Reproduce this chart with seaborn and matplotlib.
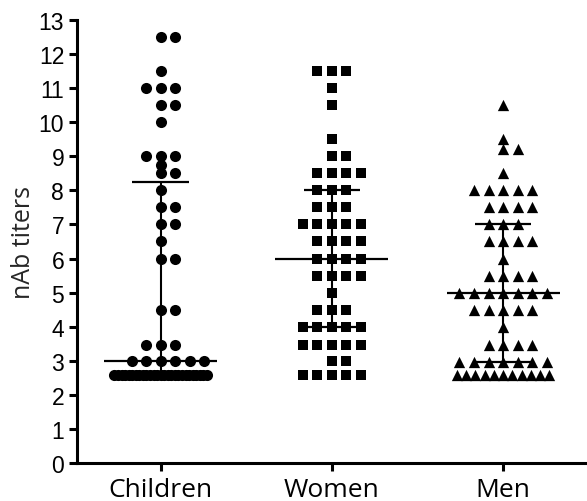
"""
plot.py - nAb titers by group, scatter dot plot with median and IQR
"""
import numpy as np
import pandas as pd
import matplotlib
matplotlib.use('Agg')
import matplotlib.pyplot as plt
import seaborn as sns

GROUPS = ['Children', 'Women', 'Men']

# titer levels (rows of dots) and how many subjects sit on each level
children_levels = [12.5, 11.5, 11, 10.5, 10, 9, 8.75, 8.5, 8, 7.5, 7, 6.5, 6, 4.5, 3.45, 3, 2.58]
children_counts = [2, 1, 3, 2, 1, 3, 1, 2, 1, 2, 2, 1, 2, 2, 3, 6, 27]
women_levels = [11.5, 11, 10.5, 9.5, 9, 8.5, 8, 7.5, 7, 6.5, 6, 5.5, 5, 4.5, 4, 3.45, 3, 2.58]
women_counts = [3, 1, 1, 1, 2, 4, 3, 3, 5, 4, 4, 4, 1, 3, 5, 5, 2, 5]
men_levels = [10.5, 9.5, 9.2, 8.5, 8, 7.5, 7, 6.5, 6, 5.5, 5, 4.5, 4, 3.45, 2.95, 2.58]
men_counts = [1, 1, 2, 1, 5, 4, 3, 4, 1, 4, 7, 5, 1, 4, 7, 11]

LEVELS = [children_levels, women_levels, men_levels]
COUNTS = [children_counts, women_counts, men_counts]
MARKERS = {'Children': 'o', 'Women': 's', 'Men': '^'}
SIZES = {'Children': 64, 'Women': 52, 'Men': 66}

STEP = 0.085      # column spacing inside a row (data units)
MAX_HALF = 0.27   # crowded rows get squeezed into this half-width
ORDER = [0, 1, -1, 2, -2, 3, -3]


def row_offsets(n):
    if n <= len(ORDER):
        return np.array(ORDER[:n]) * STEP
    return np.linspace(-MAX_HALF, MAX_HALF, n)


rows = []
for gi, (g, lv, ct) in enumerate(zip(GROUPS, LEVELS, COUNTS)):
    for v, n in zip(lv, ct):
        for off in row_offsets(n):
            rows.append((g, v, gi + off))
df = pd.DataFrame(rows, columns=['group', 'titer', 'x'])

sns.set_style('ticks')
plt.rcParams['font.family'] = ['Liberation Sans', 'DejaVu Sans']

fig = plt.figure(figsize=(5.87, 5.02), dpi=100)
ax = fig.add_axes([0.1307, 0.0757, 0.8693, 0.8825])

for g in GROUPS:
    sub = df[df['group'] == g]
    sns.scatterplot(data=sub, x='x', y='titer', marker=MARKERS[g], s=SIZES[g],
                    color='black', linewidth=0, ax=ax, legend=False, zorder=3)

# median + interquartile range (Prism style)
for gi, g in enumerate(GROUPS):
    vals = df.loc[df['group'] == g, 'titer'].values
    q1, med, q3 = np.percentile(vals, [25, 50, 75], method='weibull')
    ax.vlines(gi, q1, q3, color='black', lw=1.5, zorder=4)
    ax.hlines(med, gi - 0.33, gi + 0.33, color='black', lw=1.6, zorder=4)
    ax.hlines([q1, q3], gi - 0.165, gi + 0.165, color='black', lw=1.6, zorder=4)

ax.set_xlim(-0.49, 2.49)
ax.set_ylim(0, 13)
ax.set_yticks(range(0, 14))
ax.set_xticks(range(len(GROUPS)))
ax.set_xticklabels(GROUPS, family='Open Sans', fontsize=19)
ax.set_xlabel('')
ax.set_ylabel('nAb titers', family='Open Sans', fontsize=18, labelpad=2)
ax.tick_params(axis='y', labelsize=16.5, length=6, width=2.2, pad=3, colors='black')
ax.tick_params(axis='x', length=6, width=2.2, pad=4, colors='black')
for s in ['top', 'right']:
    ax.spines[s].set_visible(False)
for s in ['left', 'bottom']:
    ax.spines[s].set_linewidth(2.2)
    ax.spines[s].set_color('black')

fig.savefig('out.png', dpi=100, facecolor='white')
plt.close(fig)
